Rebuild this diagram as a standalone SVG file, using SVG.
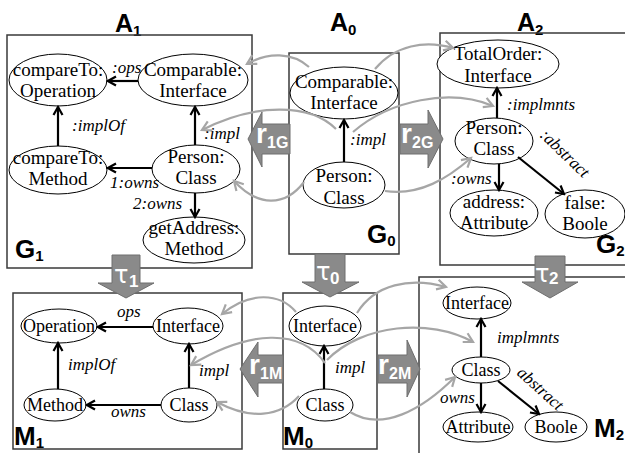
<svg xmlns="http://www.w3.org/2000/svg" width="625" height="453" viewBox="0 0 625 453">
<style>
.box{fill:none;stroke:#3a3a3a;stroke-width:1.5}
.nd{fill:#fff;stroke:#000;stroke-width:1}
.nt{font-family:"Liberation Serif",serif;font-size:18px;text-anchor:middle;fill:#000}
.ng{font-size:19px}
.el{font-family:"Liberation Serif",serif;font-size:17px;font-style:italic;fill:#000}
.ed{fill:none;stroke:#000;stroke-width:2.2}
.gc{fill:none;stroke:#a6a6a6;stroke-width:2.2}
.ttl{font-family:"Liberation Sans",sans-serif;font-weight:bold;font-size:25px;fill:#000}
.sub{font-size:15px}
.gl{font-family:"Liberation Sans",sans-serif;font-weight:bold;font-size:26px;fill:#000}
.blk{fill:#8a8a8a;stroke:#6e6e6e;stroke-width:1}
.bl{font-family:"Liberation Sans",sans-serif;font-weight:bold;fill:#fff}
.tau{font-family:"DejaVu Sans",sans-serif;font-size:24px;fill:#fff}
</style>
<defs>
<marker id="ah" markerUnits="userSpaceOnUse" markerWidth="12" markerHeight="12" refX="10" refY="6" orient="auto">
<path d="M2,1.5 L10,6 L2,10.5" fill="none" stroke="#000" stroke-width="2.2"/>
</marker>
<marker id="gh" markerUnits="userSpaceOnUse" markerWidth="14" markerHeight="14" refX="11" refY="7" orient="auto">
<path d="M2,2 L11,7 L2,12" fill="none" stroke="#a6a6a6" stroke-width="2.2"/>
</marker>
</defs>
<rect width="625" height="453" fill="#fff"/>

<g id="titles">
<text class="ttl" x="115" y="32">A<tspan class="sub" dy="4">1</tspan></text>
<text class="ttl" x="330" y="31">A<tspan class="sub" dy="4">0</tspan></text>
<text class="ttl" x="517" y="31">A<tspan class="sub" dy="4">2</tspan></text>
</g>

<g id="frames">
<rect class="box" x="7" y="35" width="245" height="233"/>
<rect class="box" x="289" y="53" width="110" height="201"/>
<rect class="box" x="440" y="33" width="190" height="232"/>
<rect class="box" x="13" y="293" width="229" height="156"/>
<rect class="box" x="283" y="293" width="94" height="156"/>
<rect class="box" x="419" y="277" width="211" height="180"/>
<text class="gl" x="15" y="258">G<tspan class="sub" dy="3">1</tspan></text>
<text class="gl" x="367" y="243">G<tspan class="sub" dy="3">0</tspan></text>
<text class="gl" x="596" y="253">G<tspan class="sub" dy="3">2</tspan></text>
<text class="gl" x="14" y="445">M<tspan class="sub" dy="3">1</tspan></text>
<text class="gl" x="283" y="445">M<tspan class="sub" dy="3">0</tspan></text>
<text class="gl" x="594" y="437">M<tspan class="sub" dy="3">2</tspan></text>
</g>

<g id="g1_op"><ellipse class="nd" cx="58" cy="80" rx="49" ry="26"/><text class="nt ng" x="58" y="76">compareTo:</text><text class="nt ng" x="58" y="97">Operation</text></g>
<g id="g1_if"><ellipse class="nd" cx="193" cy="80" rx="55" ry="26"/><text class="nt ng" x="193" y="76">Comparable:</text><text class="nt ng" x="193" y="97">Interface</text></g>
<g id="g1_meth"><ellipse class="nd" cx="58" cy="170" rx="49" ry="24"/><text class="nt ng" x="58" y="164">compareTo:</text><text class="nt ng" x="58" y="185">Method</text></g>
<g id="g1_cls"><ellipse class="nd" cx="196" cy="169" rx="44" ry="24"/><text class="nt ng" x="196" y="163">Person:</text><text class="nt ng" x="196" y="184">Class</text></g>
<g id="g1_get"><ellipse class="nd" cx="194" cy="240" rx="51" ry="23"/><text class="nt ng" x="194" y="234">getAddress:</text><text class="nt ng" x="194" y="255">Method</text></g>

<g id="g0_if"><ellipse class="nd" cx="344" cy="93" rx="54" ry="26"/><text class="nt ng" x="344" y="88">Comparable:</text><text class="nt ng" x="344" y="109">Interface</text></g>
<g id="g0_cls"><ellipse class="nd" cx="344" cy="185" rx="41" ry="23"/><text class="nt ng" x="344" y="182">Person:</text><text class="nt ng" x="344" y="204">Class</text></g>

<g id="g2_tot"><ellipse class="nd" cx="498" cy="64" rx="61" ry="24"/><text class="nt ng" x="498" y="60">TotalOrder:</text><text class="nt ng" x="498" y="82">Interface</text></g>
<g id="g2_cls"><ellipse class="nd" cx="494" cy="141" rx="39" ry="23"/><text class="nt ng" x="494" y="134">Person:</text><text class="nt ng" x="494" y="155">Class</text></g>
<g id="g2_addr"><ellipse class="nd" cx="494" cy="213" rx="44" ry="23"/><text class="nt ng" x="494" y="208">address:</text><text class="nt ng" x="494" y="229">Attribute</text></g>
<g id="g2_bool"><ellipse class="nd" cx="585" cy="214" rx="40" ry="24"/><text class="nt ng" x="585" y="209">false:</text><text class="nt ng" x="585" y="230">Boole</text></g>

<g id="m1_op"><ellipse class="nd" cx="59" cy="326" rx="38" ry="17"/><text class="nt" x="59" y="332">Operation</text></g>
<g id="m1_if"><ellipse class="nd" cx="188" cy="326" rx="35" ry="18"/><text class="nt" x="188" y="332">Interface</text></g>
<g id="m1_meth"><ellipse class="nd" cx="55" cy="405" rx="31" ry="16"/><text class="nt" x="55" y="411">Method</text></g>
<g id="m1_cls"><ellipse class="nd" cx="189" cy="405" rx="28" ry="17"/><text class="nt" x="189" y="411">Class</text></g>

<g id="m0_if"><ellipse class="nd" cx="325" cy="326" rx="36" ry="20"/><text class="nt" x="325" y="332">Interface</text></g>
<g id="m0_cls"><ellipse class="nd" cx="325" cy="405" rx="28" ry="16"/><text class="nt" x="325" y="411">Class</text></g>

<g id="m2_if"><ellipse class="nd" cx="477" cy="303" rx="34" ry="16"/><text class="nt" x="477" y="309">Interface</text></g>
<g id="m2_cls"><ellipse class="nd" cx="481" cy="370" rx="29" ry="13"/><text class="nt" x="481" y="376">Class</text></g>
<g id="m2_attr"><ellipse class="nd" cx="478" cy="427" rx="35" ry="15"/><text class="nt" x="478" y="433">Attribute</text></g>
<g id="m2_bool"><ellipse class="nd" cx="556" cy="427" rx="31" ry="15"/><text class="nt" x="556" y="433">Boole</text></g>

<g id="transforms">
<polygon class="blk" points="248,139 262,112 262,124 290,124 290,154 262,154 262,167"/>
<text class="bl" x="256" y="143" font-size="28">r</text><text class="bl" x="267" y="148" font-size="16">1G</text>
<polygon class="blk" points="400,124 428,124 428,110 443,139 428,168 428,154 400,154"/>
<text class="bl" x="401" y="143" font-size="28">r</text><text class="bl" x="412" y="148" font-size="16">2G</text>
<polygon class="blk" points="240,369 258,342 258,355 283,355 283,383 258,383 258,397"/>
<text class="bl" x="249" y="374" font-size="28">r</text><text class="bl" x="260" y="379" font-size="16">1M</text>
<polygon class="blk" points="378,355 407,355 407,340 420,369 407,397 407,383 378,383"/>
<text class="bl" x="378" y="374" font-size="28">r</text><text class="bl" x="389" y="379" font-size="16">2M</text>
<polygon class="blk" points="112,255 140,255 140,283 154,283 126,298 98,283 112,283"/>
<text class="tau" x="114" y="283">τ</text><text class="bl" x="129" y="287" font-size="17">1</text>
<polygon class="blk" points="315,254 345,254 345,282 359,282 330,297 302,282 315,282"/>
<text class="tau" x="316" y="280">τ</text><text class="bl" x="330" y="284" font-size="17">0</text>
<polygon class="blk" points="535,256 565,256 565,282 578,282 550,298 522,282 535,282"/>
<text class="tau" x="535" y="282">τ</text><text class="bl" x="549" y="284" font-size="17">2</text>
</g>

<g id="connectors">
<line class="ed" x1="138" y1="81" x2="108" y2="81" marker-end="url(#ah)"/>
<line class="ed" x1="58" y1="146" x2="58" y2="107" marker-end="url(#ah)"/>
<line class="ed" x1="195" y1="145" x2="195" y2="107" marker-end="url(#ah)"/>
<line class="ed" x1="152" y1="168" x2="108" y2="168" marker-end="url(#ah)"/>
<line class="ed" x1="195" y1="193" x2="195" y2="217" marker-end="url(#ah)"/>
<line class="ed" x1="344" y1="162" x2="344" y2="120" marker-end="url(#ah)"/>
<line class="ed" x1="497" y1="118" x2="497" y2="88" marker-end="url(#ah)"/>
<line class="ed" x1="499" y1="164" x2="499" y2="190" marker-end="url(#ah)"/>
<line class="ed" x1="518" y1="157" x2="564" y2="194" marker-end="url(#ah)"/>
<line class="ed" x1="153" y1="327" x2="98" y2="327" marker-end="url(#ah)"/>
<line class="ed" x1="58" y1="389" x2="58" y2="343" marker-end="url(#ah)"/>
<line class="ed" x1="189" y1="388" x2="189" y2="344" marker-end="url(#ah)"/>
<line class="ed" x1="161" y1="405" x2="87" y2="405" marker-end="url(#ah)"/>
<line class="ed" x1="324" y1="389" x2="324" y2="346" marker-end="url(#ah)"/>
<line class="ed" x1="481" y1="357" x2="481" y2="319" marker-end="url(#ah)"/>
<line class="ed" x1="481" y1="383" x2="481" y2="412" marker-end="url(#ah)"/>
<line class="ed" x1="498" y1="381" x2="539" y2="414" marker-end="url(#ah)"/>

<text class="el" x="112" y="73">:ops</text>
<text class="el" x="72" y="131">:implOf</text>
<text class="el" x="204" y="139">:impl</text>
<text class="el" x="110" y="188">1:owns</text>
<text class="el" x="133" y="209">2:owns</text>
<text class="el" x="350" y="145">:impl</text>
<text class="el" x="507" y="110">:implmnts</text>
<text class="el" x="451" y="184">:owns</text>
<text class="el" x="539" y="136" transform="rotate(44 539 136)">:abstract</text>
<text class="el" x="117" y="317">ops</text>
<text class="el" x="68" y="370">implOf</text>
<text class="el" x="199" y="376">impl</text>
<text class="el" x="111" y="417">owns</text>
<text class="el" x="335" y="373">impl</text>
<text class="el" x="497" y="343">implmnts</text>
<text class="el" x="440" y="403">owns</text>
<text class="el" x="516" y="374" transform="rotate(42 516 374)">abstract</text>

<path class="gc" d="M309 67 C292 52 268 52 247 64" marker-end="url(#gh)"/>
<path class="gc" d="M375 69 C395 45 425 40 453 48" marker-end="url(#gh)"/>
<path class="gc" d="M336 129 C310 103 255 103 202 130" marker-end="url(#gh)"/>
<path class="gc" d="M353 132 C390 100 450 88 493 106" marker-end="url(#gh)"/>
<path class="gc" d="M304 182 C285 207 258 207 234 181" marker-end="url(#gh)"/>
<path class="gc" d="M385 191 C420 196 448 178 471 158" marker-end="url(#gh)"/>
<path class="gc" d="M296 312 C280 293 250 291 222 314" marker-end="url(#gh)"/>
<path class="gc" d="M357 313 C375 284 410 277 446 287" marker-end="url(#gh)"/>
<path class="gc" d="M325 363 C300 328 250 330 191 365" marker-end="url(#gh)"/>
<path class="gc" d="M327 360 C362 324 430 318 473 342" marker-end="url(#gh)"/>
<path class="gc" d="M299 396 C280 417 250 420 217 402" marker-end="url(#gh)"/>
<path class="gc" d="M350 412 C382 432 422 410 455 377" marker-end="url(#gh)"/>
</g>
</svg>
